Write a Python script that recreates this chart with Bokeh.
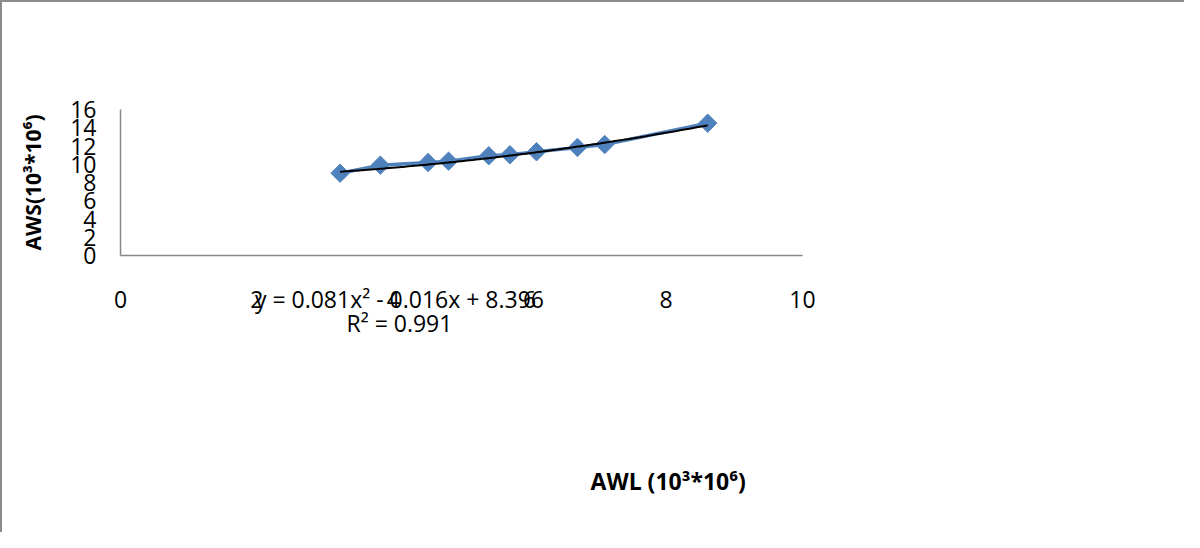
import numpy as np
from bokeh.plotting import figure
from bokeh.models import Range1d, FixedTicker, LinearAxis
from bokeh.embed import file_html
from bokeh.resources import INLINE

# ---- data ----
awl = [3.22, 3.81, 4.51, 4.81, 5.40, 5.71, 6.10, 6.70, 7.10, 8.61]
aws = [9.02, 9.90, 10.19, 10.34, 10.93, 11.04, 11.37, 11.84, 12.16, 14.50]
trend_coef = [0.081, -0.016, 8.396]
x_ticks = [0, 2, 4, 6, 8, 10]
y_ticks = [0, 2, 4, 6, 8, 10, 12, 14, 16]
eq_text = "y = 0.081x\u00b2 - 0.016x + 8.396"
r2_text = "R\u00b2 = 0.991"
x_title = "AWL (10\u00b3*10\u2076)"
y_title = "AWS(10\u00b3*10\u2076)"
eq_pos = 4.09      # x (data units) where the trendline label is centred
xtitle_pos = 8.03  # x (data units) where the x-axis title is centred

FONT = "Open Sans"
AXIS_COLOR = "#868686"
BLUE = "#4F81BD"

p = figure(width=1184, height=532, output_backend="svg", toolbar_location=None,
           x_range=Range1d(0, 10), y_range=Range1d(0, 16),
           min_border_left=118, min_border_right=384,
           min_border_top=107, min_border_bottom=279)
p.styles = {"border-left": "2px solid #8c8c8c", "border-top": "2px solid #8c8c8c"}
p.outline_line_color = None
p.xgrid.visible = False
p.ygrid.visible = False


def style_axis(ax, size="23px", bold=False):
    ax.major_tick_line_color = None
    ax.minor_tick_line_color = None
    ax.major_tick_out = 0
    ax.major_tick_in = 0
    ax.minor_tick_out = 0
    ax.major_label_text_font = FONT
    ax.major_label_text_font_size = size
    ax.major_label_text_color = "black"
    if bold:
        ax.major_label_text_font_style = "bold"


xa = p.xaxis[0]
ya = p.yaxis[0]
for ax in (xa, ya):
    style_axis(ax)
    ax.axis_line_color = AXIS_COLOR
    ax.axis_line_width = 1.5

# main x axis: ticks plus trendline equation (same row, as in the reference)
xa.ticker = FixedTicker(ticks=x_ticks + [eq_pos])
xa.major_label_overrides = {eq_pos: eq_text}
xa.major_label_standoff = 27
ya.ticker = FixedTicker(ticks=y_ticks)
ya.major_label_standoff = 24

ya.axis_label = y_title
ya.axis_label_text_font = FONT
ya.axis_label_text_font_style = "bold"
ya.axis_label_text_font_size = "21px"
ya.axis_label_text_color = "black"
ya.axis_label_standoff = 20

# second row: R squared
ax_r2 = LinearAxis(ticker=FixedTicker(ticks=[eq_pos]),
                   major_label_overrides={eq_pos: r2_text})
style_axis(ax_r2)
ax_r2.axis_line_color = None
ax_r2.major_label_standoff = -11
p.add_layout(ax_r2, "below")

# third row: x-axis title
ax_t = LinearAxis(ticker=FixedTicker(ticks=[xtitle_pos]),
                  major_label_overrides={xtitle_pos: x_title})
style_axis(ax_t, size="23px", bold=True)
ax_t.axis_line_color = None
ax_t.major_label_standoff = 123
p.add_layout(ax_t, "below")

# data series
p.line(awl, aws, line_color=BLUE, line_width=3.5)
p.scatter(awl, aws, marker="square", size=13, angle=np.pi / 4,
          fill_color=BLUE, line_color=BLUE)

# polynomial trendline from the displayed equation
tx = np.linspace(min(awl), max(awl), 120)
ty = np.polyval(trend_coef, tx)
p.line(tx, ty, line_color="black", line_width=2)

open("out.html", "w").write(file_html(p, INLINE))
